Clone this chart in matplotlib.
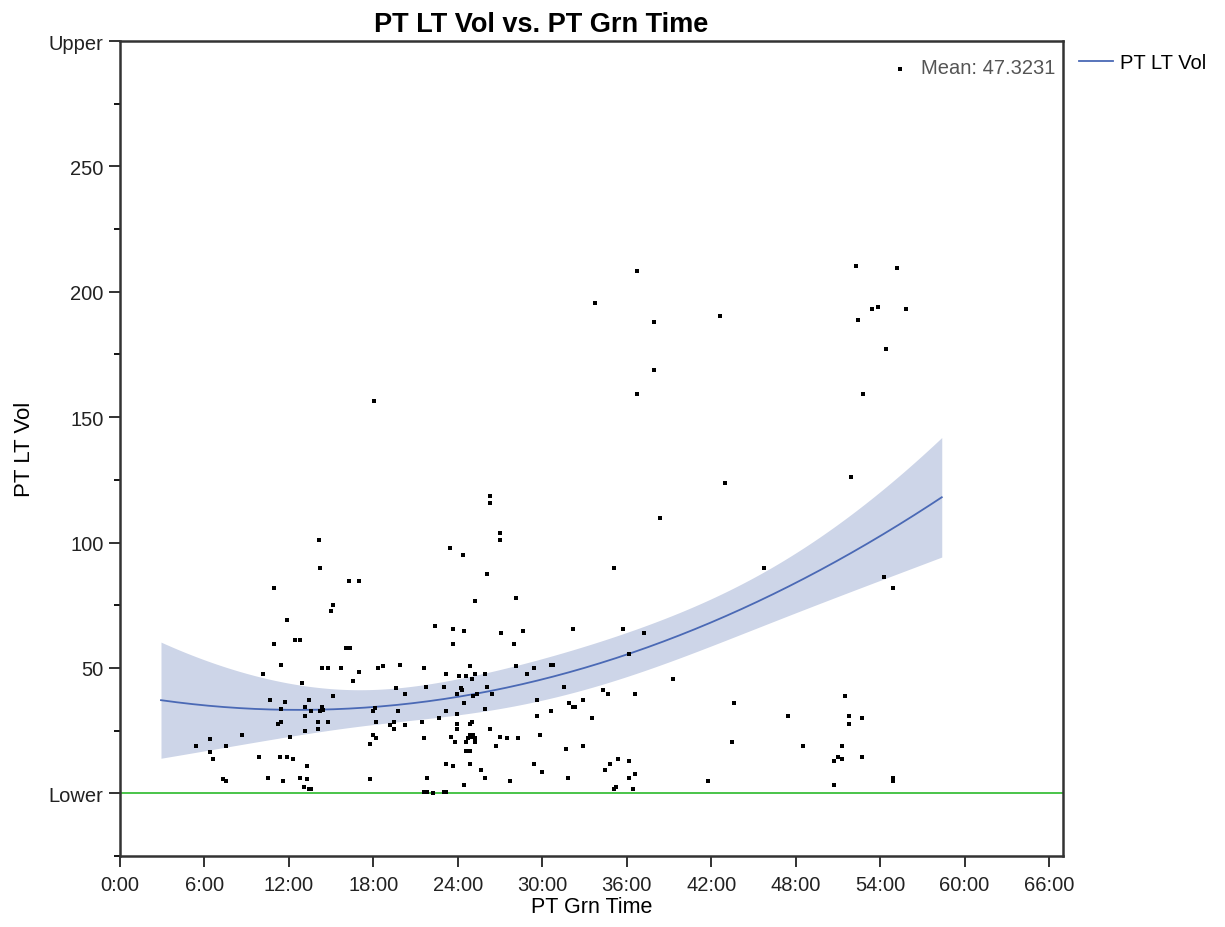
import numpy as np
import matplotlib
matplotlib.use("Agg")
import matplotlib.pyplot as plt
from matplotlib.ticker import FixedLocator, FuncFormatter

plt.rcParams['font.family'] = ['Liberation Sans', 'DejaVu Sans']

# data: green time in minutes, left-turn volume
grn_time = [
  14.22, 16.3, 17.0, 10.93, 15.15, 15.0, 11.86, 12.4, 12.78, 10.93, 16.05, 16.36,
  11.47, 14.37, 14.77, 15.67, 18.3, 10.15, 17.0, 16.57, 12.92, 15.15, 10.65, 11.74,
  13.42, 13.16, 14.37, 14.4, 14.22, 13.56, 11.45, 18.14, 18.0, 13.16, 11.19, 11.47,
  14.08, 14.74, 18.19, 13.16, 14.08, 8.7, 12.11, 18.0, 18.16, 17.76, 5.43, 6.38,
  7.54, 6.38, 6.61, 9.89, 11.33, 11.88, 12.26, 13.3, 7.35, 7.52, 10.53, 11.59,
  12.78, 13.3, 13.04, 13.42, 13.56, 17.76,
  26.05, 25.25, 28.14, 22.35, 23.66, 24.47, 27.08, 28.66, 23.66, 27.99, 18.68, 19.89,
  21.57, 24.85, 28.14, 29.44, 30.63, 30.77, 23.16, 24.06, 24.59, 25.25, 25.91, 24.99,
  28.9, 19.63, 21.72, 23.02, 24.2, 24.32, 26.05, 31.53, 20.27, 23.94, 25.1, 25.37,
  26.43, 29.59, 24.47, 31.91, 19.75, 23.16, 25.91, 30.63, 23.94, 22.64, 29.59, 19.49,
  19.2, 19.49, 20.27, 21.43, 23.94, 24.85, 24.99, 23.94, 26.29, 29.85, 21.57, 23.54,
  24.85, 24.99, 25.1, 24.73, 25.25, 23.8, 24.59, 25.25, 26.96, 27.48, 28.26, 26.69,
  24.59, 24.85, 31.67, 23.16, 23.68, 24.85, 29.44, 25.65, 29.96, 21.84, 25.91, 31.82,
  27.74, 24.47, 21.57, 21.84, 22.21, 23.02, 23.14,
  35.09, 32.2, 35.75, 37.2, 36.15, 39.3, 34.3, 34.7, 36.56, 32.86, 32.2, 32.34,
  33.52, 43.62, 32.86, 43.5, 35.35, 36.15, 34.83, 34.45, 36.56, 36.15, 41.8, 35.09,
  35.23, 36.41,
  45.75, 54.29, 54.95, 51.52, 47.44, 51.8, 52.7, 51.8, 48.5, 51.26, 51.0, 51.28,
  50.71, 52.7, 54.95, 54.95, 50.73,
  18.02, 26.32, 26.32, 26.98, 26.98, 14.1, 23.42, 24.35,
  36.7, 33.78, 37.95, 42.6, 37.95, 36.7, 42.98, 38.39, 52.32, 55.19, 53.46, 53.86,
  55.86, 52.42, 54.41, 52.82, 51.92, 55.43,
]
lt_vol = [
  89.9, 84.7, 84.7, 81.7, 75.1, 72.7, 69.1, 61.1, 61.1, 59.5, 58.0, 58.0,
  51.3, 50.0, 50.0, 50.0, 50.0, 47.6, 48.4, 44.7, 44.0, 38.8, 37.3, 36.5,
  37.3, 34.4, 34.4, 33.3, 32.8, 32.8, 33.6, 34.1, 32.8, 30.7, 27.7, 28.5,
  28.5, 28.5, 28.5, 24.8, 25.5, 23.3, 22.5, 23.3, 21.9, 19.6, 18.8, 21.7,
  18.8, 16.5, 13.6, 14.4, 14.4, 14.4, 13.6, 10.7, 5.6, 4.8, 6.3, 4.8,
  6.3, 5.6, 2.5, 1.9, 1.9, 5.6,
  87.6, 76.5, 78.0, 66.9, 65.5, 64.8, 64.0, 64.8, 59.5, 59.5, 50.7, 51.3,
  49.9, 50.7, 50.7, 49.9, 51.3, 51.3, 47.7, 46.9, 46.9, 47.7, 47.7, 45.5,
  47.7, 41.9, 42.5, 42.5, 41.9, 41.1, 42.5, 42.5, 39.6, 39.6, 38.8, 39.6,
  39.6, 37.3, 35.9, 35.9, 32.9, 32.9, 33.6, 32.9, 31.5, 30.0, 30.7, 28.5,
  27.1, 25.5, 27.1, 28.5, 27.7, 27.7, 28.5, 25.5, 25.5, 23.3, 21.9, 22.5,
  23.3, 22.5, 23.3, 21.9, 21.9, 20.4, 20.4, 20.4, 22.5, 21.9, 21.9, 18.9,
  16.7, 16.7, 17.5, 11.5, 10.7, 11.5, 11.5, 9.2, 8.5, 6.3, 6.3, 6.3,
  4.8, 3.3, 0.6, 0.6, 0.0, 0.5, 0.5,
  89.9, 65.5, 65.5, 64.0, 55.7, 45.5, 41.1, 39.6, 39.6, 37.3, 34.4, 34.4,
  30.0, 35.9, 18.8, 20.4, 13.7, 12.9, 11.5, 9.2, 7.7, 6.3, 4.8, 1.9,
  2.5, 1.9,
  89.9, 86.1, 81.7, 38.8, 30.7, 30.7, 29.9, 27.7, 18.8, 18.8, 14.4, 13.6,
  12.9, 14.4, 6.3, 4.8, 3.3,
  156.3, 118.7, 115.6, 103.9, 100.9, 100.9, 97.9, 95.0,
  208.1, 195.6, 188.1, 190.4, 169.0, 159.4, 123.9, 109.9, 210.4, 209.6, 193.3, 194.0,
  193.3, 188.9, 177.1, 159.4, 126.1, 288.9,
]

x = np.array(grn_time)
y = np.array(lt_vol)

# quadratic fit with 95% confidence band on the mean
X = np.column_stack([np.ones_like(x), x, x**2])
beta, res, rank, sv = np.linalg.lstsq(X, y, rcond=None)
n = len(x)
resid = y - X @ beta
s2 = resid @ resid / (n - 3)
XtX_inv = np.linalg.inv(X.T @ X)

span = x.max() - x.min()
xf = np.linspace(x.min() - 0.05*span, x.max() + 0.05*span, 200)
Xf = np.column_stack([np.ones_like(xf), xf, xf**2])
yf = Xf @ beta
se = np.sqrt(s2 * np.einsum('ij,jk,ik->i', Xf, XtX_inv, Xf))
t = 1.97
lo = yf - t*se
hi = yf + t*se

fig = plt.figure(figsize=(12.25, 9.28), dpi=100)
ax = fig.add_axes([0.098, 0.0765, 0.7698, 0.8782])

ax.fill_between(xf, lo, hi, color='#cdd5e8', linewidth=0, zorder=1)
line, = ax.plot(xf, yf, color='#4a69b5', linewidth=1.3, zorder=2, label='PT LT Vol')
ax.axhline(0, color='#3cbf3c', linewidth=1.3, zorder=2)
ax.scatter(x, y, s=6, marker='s', color='black', linewidths=0, zorder=3)

ax.set_xlim(0, 67)
ax.set_ylim(-25, 300)

ax.xaxis.set_major_locator(FixedLocator(np.arange(0, 67, 6)))
ax.xaxis.set_major_formatter(FuncFormatter(lambda v, p: '%d:00' % int(round(v))))

yticks = [0, 50, 100, 150, 200, 250, 300]
ylabels = ['Lower', '50', '100', '150', '200', '250', 'Upper']
ax.set_yticks(yticks)
ax.set_yticklabels(ylabels)
ax.yaxis.set_minor_locator(FixedLocator(np.arange(-25, 300, 50)))

ax.tick_params(axis='both', which='major', direction='out', length=8, width=1.3,
               labelsize=14.5, colors='#222222', pad=4)
ax.tick_params(axis='x', which='major', pad=6)
ax.tick_params(axis='y', which='minor', direction='out', length=4, width=1.3)
for sp in ax.spines.values():
  sp.set_linewidth(1.8)
  sp.set_color('#333333')

# title sits a bit left of the axes centre in the original
ax.set_title('PT LT Vol vs. PT Grn Time', fontsize=19.5, fontweight='bold', pad=7.5, x=0.4465)
ax.set_xlabel('PT Grn Time', fontsize=15.5, labelpad=1)
ax.set_ylabel('PT LT Vol', fontsize=16, labelpad=10)

ax.text(0.9915, 0.968, 'Mean: %.4f' % 47.3231, transform=ax.transAxes, ha='right',
        va='center', fontsize=14.5, color='#555555')

ax.legend(handles=[line], loc='upper left', bbox_to_anchor=(1.008, 0.995), frameon=False,
          fontsize=14.5, handlelength=1.7, handletextpad=0.35, borderaxespad=0)

fig.savefig('out.png', dpi=100)
